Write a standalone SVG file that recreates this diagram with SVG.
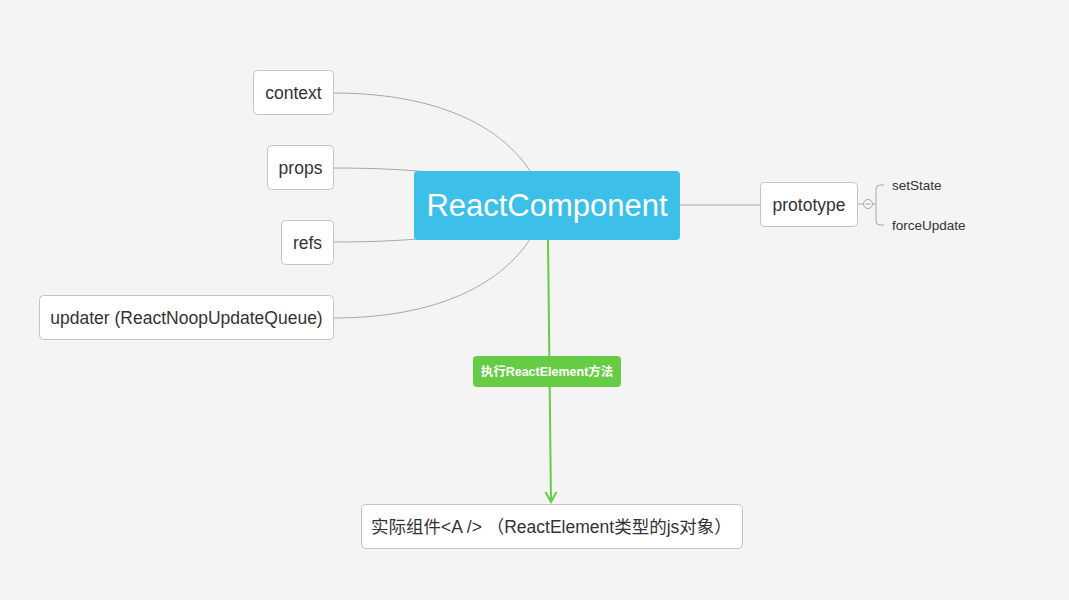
<svg xmlns="http://www.w3.org/2000/svg" width="1069" height="600" viewBox="0 0 1069 600">
<style>
.bg{fill:#f4f4f4}
.node rect{fill:#ffffff;stroke:#c4c4c4;stroke-width:1}
.t{font-family:"Liberation Sans","Noto Sans CJK SC",sans-serif;fill:#333333}
.n{font-size:17.5px}
.s{font-size:13.5px}
.conn{fill:none;stroke:#a8a8a8;stroke-width:1}
.green{fill:none;stroke:#66cc44;stroke-width:2}
</style>
<rect class="bg" x="0" y="0" width="1069" height="600"/>
<g id="connectors">
<path class="conn" d="M333,93 C450,93 525,135 546,205"/>
<path class="conn" d="M333,168 C420,168 500,175 546,205"/>
<path class="conn" d="M333,242 C420,242 500,235 546,205"/>
<path class="conn" d="M333,318 C450,318 525,275 546,205"/>
<path class="conn" d="M679,205 L760,205"/>
<path class="conn" d="M857,204 L864,204"/>
<path class="conn" d="M872,204 L876,204 M884,185 L880,185 Q876,185 876,189 L876,221 Q876,225 880,225 L884,225"/>
<circle cx="868" cy="204" r="4.5" fill="#f4f4f4" stroke="#a8a8a8" stroke-width="1"/>
<path d="M865.5,204 L870.5,204" stroke="#a8a8a8" stroke-width="1"/>
<path class="green" d="M548,240 L551,502"/>
<path class="green" d="M545.5,492 L551,502 L556.5,492"/>
</g>
<g id="node-context" class="node"><rect x="253.5" y="70.5" width="80" height="44" rx="4"/><text class="t n" x="293.5" y="99" text-anchor="middle">context</text></g>
<g id="node-props" class="node"><rect x="267.5" y="145.5" width="66" height="44" rx="4"/><text class="t n" x="300.5" y="174" text-anchor="middle">props</text></g>
<g id="node-refs" class="node"><rect x="281.5" y="220.5" width="52" height="44" rx="4"/><text class="t n" x="307.5" y="249" text-anchor="middle">refs</text></g>
<g id="node-updater" class="node"><rect x="39.5" y="295.5" width="294" height="44" rx="4"/><text class="t n" x="186.5" y="324" text-anchor="middle">updater (ReactNoopUpdateQueue)</text></g>
<g id="node-root"><rect x="414" y="171" width="266" height="69" rx="4" fill="#3cbfe8"/><text x="547" y="216" font-size="31" text-anchor="middle" fill="#ffffff" font-family="'Liberation Sans',sans-serif">ReactComponent</text></g>
<g id="node-prototype" class="node"><rect x="760.5" y="182.5" width="97" height="44" rx="4"/><text class="t n" x="809" y="211" text-anchor="middle">prototype</text></g>
<g id="node-setState"><text class="t s" x="892" y="190">setState</text></g>
<g id="node-forceUpdate"><text class="t s" x="892" y="230">forceUpdate</text></g>
<g id="label-green"><rect x="473" y="356" width="148" height="31" rx="4" fill="#66cc44"/><text x="547" y="376" font-size="12.5" font-weight="bold" text-anchor="middle" fill="#ffffff" font-family="'Liberation Sans','Noto Sans CJK SC',sans-serif">执行ReactElement方法</text></g>
<g id="node-instance" class="node"><rect x="361.5" y="504.5" width="381" height="44" rx="4"/><text class="t n" x="371" y="533">实际组件&lt;A /&gt; （ReactElement类型的js对象）</text></g>
</svg>
